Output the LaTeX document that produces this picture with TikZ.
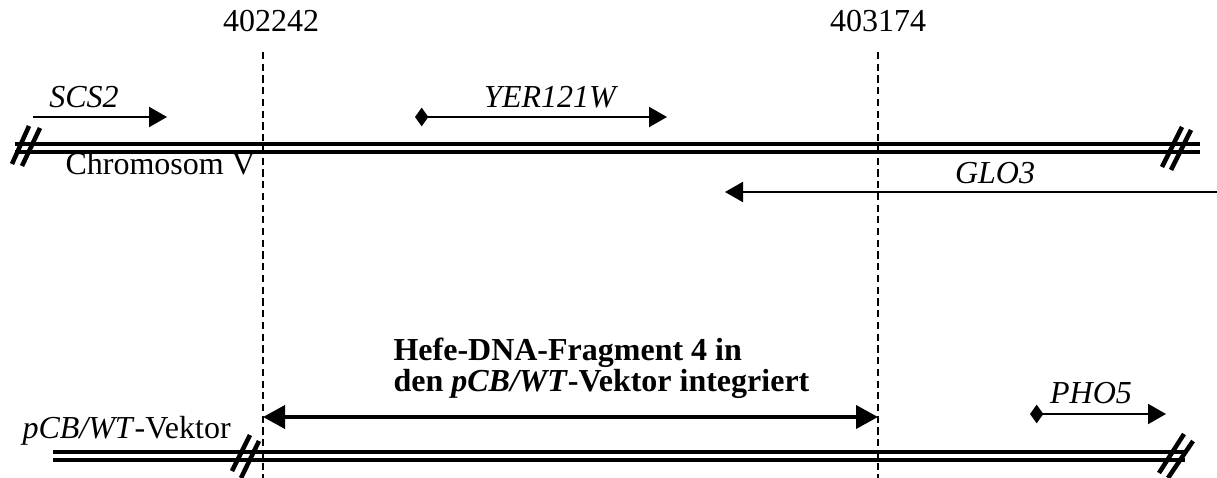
\documentclass[tikz,border=0pt]{standalone}
\usepackage{fontspec}
\setmainfont{Liberation Serif}
\usetikzlibrary{arrows.meta}
\begin{document}
\begin{tikzpicture}[x=0.375pt,y=-0.375pt,
  strand/.style={line width=1.5pt},
  cutmark/.style={line width=1.7pt},
  gene/.style={line width=0.75pt,-{Triangle[length=6.75pt,width=7.5pt]}},
  orf/.style={line width=0.75pt,{Diamond[length=5pt,width=7pt]}-{Triangle[length=6.75pt,width=7.5pt]}},
  insert/.style={line width=1.5pt,{Triangle[length=8.25pt,width=8.6pt]}-{Triangle[length=8.25pt,width=8.6pt]}},
  marker/.style={line width=0.8pt,dash pattern=on 2.7pt off 1.7pt},
  lbl/.style={inner sep=0pt,font=\fontsize{12}{14}\selectfont},
  glbl/.style={inner sep=0pt,font=\fontsize{12}{14}\selectfont\itshape},
]
\useasboundingbox (0,0) rectangle (1217,478);

% position labels and dashed boundary lines
\node[lbl,anchor=base] (p1) at (271,31) {402242};
\node[lbl,anchor=base] (p2) at (878,31) {403174};
\coordinate (m1top) at (263,52);
\coordinate (m1bot) at (263,478);
\coordinate (m2top) at (878,52);
\coordinate (m2bot) at (878,478);
\draw[marker] (m1top) -- (m1bot);
\draw[marker] (m2top) -- (m2bot);

% chromosome V
\coordinate (chrL) at (15,144);
\coordinate (chrR) at (1200,144);
\draw[strand] (chrL) -- (chrR);
\draw[strand] ([yshift=-8*0.375pt]chrL) -- ([yshift=-8*0.375pt]chrR);
\draw[cutmark] (12,164) -- (29,126);
\draw[cutmark] (22,166) -- (40,128);
\draw[cutmark] (1162,167) -- (1182,127);
\draw[cutmark] (1171,170) -- (1191,130);
\node[lbl,anchor=base west] (chr) at (65,174) {Chromosom V};

% genes on chromosome V
\coordinate (scsA) at (33,117);
\coordinate (scsB) at (167,117);
\draw[gene] (scsA) -- (scsB);
\node[glbl,anchor=base] (scs) at (84,107) {SCS2};

\coordinate (yerA) at (415,117);
\coordinate (yerB) at (667,117);
\draw[orf] (yerA) -- (yerB);
\node[glbl,anchor=base] (yer) at (550,107) {YER121W};

\coordinate (gloA) at (1217,192);
\coordinate (gloB) at (725,192);
\draw[gene] (gloA) -- (gloB);
\node[glbl,anchor=base] (glo) at (995,183) {GLO3};

% pCB/WT vector
\coordinate (vecL) at (53,452);
\coordinate (vecR) at (1185,452);
\draw[strand] (vecL) -- (vecR);
\draw[strand] ([yshift=-8*0.375pt]vecL) -- ([yshift=-8*0.375pt]vecR);
\draw[cutmark] (232,471) -- (250,435);
\draw[cutmark] (241,478) -- (259,441);
\draw[cutmark] (1159,473) -- (1184,434);
\draw[cutmark] (1168,478) -- (1193,441);
\node[lbl,anchor=base west] (vec) at (22,438) {\textit{pCB/WT}-Vektor};

\coordinate (phoA) at (1030,414);
\coordinate (phoB) at (1166,414);
\draw[orf] (phoA) -- (phoB);
\node[glbl,anchor=base] (pho) at (1091,403) {PHO5};

% integrated yeast fragment
\coordinate (insA) at (263,417);
\coordinate (insB) at (878,417);
\draw[insert] (insA) -- (insB);
\node[inner sep=0pt,anchor=base west,align=left,font=\fontsize{12}{11.5}\selectfont\bfseries] (frag) at (393,391)
  {Hefe-DNA-Fragment 4 in\\den \textit{pCB/WT}-Vektor integriert};
\end{tikzpicture}
\end{document}
